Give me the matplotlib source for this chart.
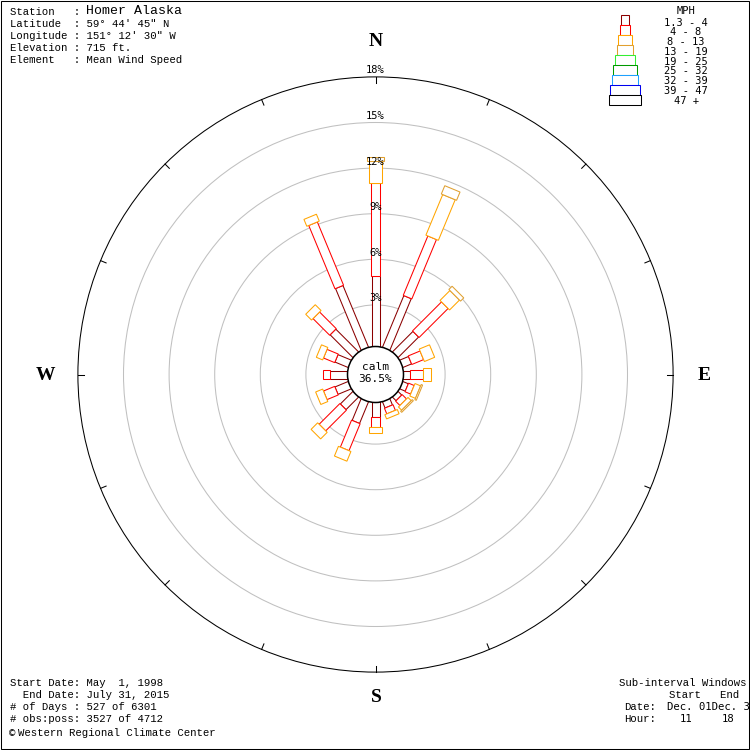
import numpy as np
import matplotlib
matplotlib.use('Agg')
import matplotlib.pyplot as plt
from matplotlib.patches import Polygon, Circle, Rectangle

# wind directions, clockwise from north
dirs = ['N', 'NNE', 'NE', 'ENE', 'E', 'ESE', 'SE', 'SSE',
        'S', 'SSW', 'SW', 'WSW', 'W', 'WNW', 'NW', 'NNW']
speed_labels = ['1.3 - 4', '4 - 8', '8 - 13', '13 - 19', '19 - 25',
                '25 - 32', '32 - 39', '39 - 47', '47 +']
speed_colors = ['#8b0000', '#ff0000', '#ffa500', '#e0a030', '#33ee33',
                '#009900', '#1ea0ff', '#0000ee', '#000000']

# percent of observations per direction, one list per speed class (mph)
pct_1_4 = [4.92, 3.93, 2.17, 0.88, 0.70, 0.65, 0.60, 0.70,
           1.24, 1.80, 1.43, 1.20, 1.41, 1.20, 2.38, 4.65]
pct_4_8 = [6.12, 4.23, 2.70, 0.84, 0.83, 0.40, 0.40, 0.40,
           0.65, 1.92, 1.93, 0.80, 0.45, 0.80, 1.55, 4.51]
pct_8_13 = [1.43, 2.89, 0.92, 0.73, 0.52, 0.40, 0.30, 0.30,
            0.40, 0.69, 0.61, 0.50, 0.00, 0.45, 0.54, 0.49]
pct_13_19 = [0.24, 0.59, 0.30, 0.00, 0.00, 0.10, 0.10, 0.00,
             0.00, 0.00, 0.00, 0.00, 0.00, 0.00, 0.00, 0.00]
calm_pct = 36.5
ring_pcts = [3, 6, 9, 12, 15, 18]

header = [('Station   : ', 'Homer Alaska'),
          ('Latitude  : 59\u00b0 44\' 45" N', None),
          ('Longitude : 151\u00b0 12\' 30" W', None),
          ('Elevation : 715 ft.', None),
          ('Element   : Mean Wind Speed', None)]
footer = ['Start Date: May  1, 1998',
          '  End Date: July 31, 2015',
          '# of Days : 527 of 6301',
          '# obs:poss: 3527 of 4712']

# drawing geometry (pixels)
CX, CY = 375.5, 374.5
R0 = 24.0
PX_PER_PCT = 15.2
CALM_R = 28.0
widths = [8, 9.3, 13.5, 16.5, 20, 23.7, 25.7, 30, 32.7]
LW = 0.75
mono = 'Liberation Mono'
smono = 'DejaVu Sans Mono'


def rad(p):
    return R0 + PX_PER_PCT * p


def bar_poly(theta, r1, r2, w):
    t = np.deg2rad(theta)
    u = np.array([np.sin(t), -np.cos(t)])
    n = np.array([np.cos(t), np.sin(t)])
    c = np.array([CX, CY])
    pts = [c + u * r1 - n * w / 2, c + u * r2 - n * w / 2,
           c + u * r2 + n * w / 2, c + u * r1 + n * w / 2]
    return np.array(pts)


fig = plt.figure(figsize=(7.5, 7.5), dpi=100)
ax = fig.add_axes([0, 0, 1, 1])
ax.set_xlim(0, 750)
ax.set_ylim(750, 0)
ax.axis('off')

# frame
ax.add_patch(Rectangle((0.5, 0.5), 748, 748, fill=False, ec='black', lw=LW))

# rings
for p in ring_pcts[:-1]:
    ax.add_patch(Circle((CX, CY), rad(p), fill=False, ec='#c0c0c0', lw=LW))
ax.add_patch(Circle((CX, CY), rad(ring_pcts[-1]), fill=False, ec='black', lw=LW))
for k in range(16):
    t = np.deg2rad(22.5 * k)
    r = rad(ring_pcts[-1])
    ax.plot([CX + r * np.sin(t), CX + (r - 6) * np.sin(t)],
            [CY - r * np.cos(t), CY - (r - 6) * np.cos(t)], color='black', lw=LW)

# bars
classes = [pct_1_4, pct_4_8, pct_8_13, pct_13_19]
for i, d in enumerate(dirs):
    theta = 22.5 * i
    cum = 0.0
    for c, vals in enumerate(classes):
        v = vals[i]
        if v <= 0:
            continue
        r1 = rad(cum) if cum > 0 else CALM_R - 2
        cum += v
        ax.add_patch(Polygon(bar_poly(theta, r1, rad(cum), widths[c]),
                             closed=True, fc='white', ec=speed_colors[c], lw=LW))

# ring labels
for p in ring_pcts:
    ax.text(CX, CY - rad(p) - 1.5, '%d%%' % p, ha='center', va='bottom',
            fontsize=7.5, family=smono)

# calm circle
ax.add_patch(Circle((CX, CY), CALM_R, fc='white', ec='black', lw=1.1, zorder=5))
ax.text(CX, CY - 7, 'calm', ha='center', va='center', fontsize=8, family=smono, zorder=6)
ax.text(CX, CY + 5, '%.1f%%' % calm_pct, ha='center', va='center', fontsize=8,
        family=smono, zorder=6)

# compass letters
for lab, (x, y) in zip(['N', 'S', 'W', 'E'],
                       [(376, 42), (376, 698), (45, 375), (704, 375)]):
    ax.text(x, y, lab, ha='center', va='center', fontsize=14, weight='bold',
            family='Liberation Serif')

# legend
ly = 15
for c, lab in enumerate(speed_labels):
    w = widths[c]
    ax.add_patch(Rectangle((625 - w / 2, ly + 10 * c), w, 10, fc='white',
                           ec=speed_colors[c], lw=LW))
    ax.text(686, 22.7 + 9.75 * c, lab, ha='center', va='center', fontsize=7.5,
            family=smono)
ax.text(686, 11, 'MPH', ha='center', va='center', fontsize=7.5, family=smono)

# header
for k, (a, b) in enumerate(header):
    y = 12 + 12 * k
    ax.text(10, y, a, ha='left', va='center', fontsize=7.7, family=mono)
    if b:
        ax.text(86, y - 1, b, ha='left', va='center', fontsize=9.5, family=mono)

# footer left
for k, s in enumerate(footer):
    ax.text(10, 683 + 12 * k, s, ha='left', va='center', fontsize=7.7, family=mono)
ax.text(9, 733, '\u00a9', ha='left', va='center', fontsize=7.7, family=smono)
ax.text(18, 733, 'Western Regional Climate Center', ha='left', va='center',
        fontsize=7.7, family=mono)

# footer right
ax.text(619, 683, 'Sub-interval Windows', ha='left', va='center', fontsize=7.7, family=mono)
ax.text(669, 695, 'Start   End', ha='left', va='center', fontsize=7.7, family=mono)
ax.text(624, 707, 'Date:', ha='left', va='center', fontsize=7.7, family=mono)
ax.text(667, 707, 'Dec. 01Dec. 31', ha='left', va='center', fontsize=7.7, family=smono)
ax.text(624, 719, 'Hour:', ha='left', va='center', fontsize=7.7, family=mono)
ax.text(680, 719, '11', ha='left', va='center', fontsize=7.7, family=smono)
ax.text(722, 719, '18', ha='left', va='center', fontsize=7.7, family=smono)

fig.savefig('out.png', dpi=100)
